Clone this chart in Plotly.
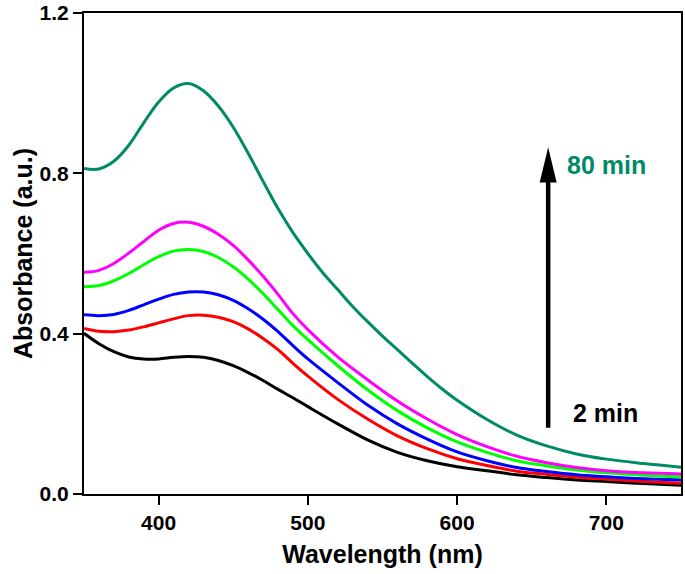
import plotly.graph_objects as go

# ---------------- data ----------------
wl_2min = [350, 360, 370, 380, 390, 400, 410, 420, 430, 440, 450, 460, 470, 480, 490, 500,
           520, 540, 560, 580, 600, 620, 640, 660, 680, 700, 725, 750]
abs_2min = [0.401, 0.375, 0.355, 0.342, 0.337, 0.337, 0.341, 0.343, 0.341, 0.333, 0.320, 0.303,
            0.283, 0.261, 0.240, 0.218, 0.175, 0.135, 0.104, 0.083, 0.068, 0.058, 0.048, 0.041,
            0.035, 0.031, 0.026, 0.022]

wl_std = [350, 360, 370, 380, 390, 400, 410, 420, 430, 440, 450, 460, 470, 480, 490, 500,
          520, 540, 560, 580, 600, 620, 640, 660, 680, 700, 725, 750]
abs_red = [0.413, 0.406, 0.405, 0.409, 0.417, 0.427, 0.437, 0.445, 0.446, 0.441, 0.430, 0.412,
           0.388, 0.360, 0.326, 0.294, 0.236, 0.187, 0.145, 0.113, 0.088, 0.071, 0.057, 0.049,
           0.042, 0.037, 0.031, 0.027]
abs_blue = [0.447, 0.445, 0.448, 0.458, 0.472, 0.486, 0.498, 0.504, 0.504, 0.497, 0.483, 0.462,
            0.436, 0.405, 0.370, 0.337, 0.278, 0.222, 0.175, 0.137, 0.105, 0.083, 0.066, 0.056,
            0.048, 0.043, 0.038, 0.035]
abs_green = [0.517, 0.520, 0.532, 0.550, 0.572, 0.592, 0.606, 0.610, 0.605, 0.590, 0.567, 0.536,
             0.500, 0.460, 0.420, 0.385, 0.320, 0.260, 0.208, 0.165, 0.130, 0.104, 0.083, 0.070,
             0.060, 0.053, 0.047, 0.043]
abs_magenta = [0.553, 0.558, 0.575, 0.601, 0.630, 0.658, 0.675, 0.678, 0.668, 0.648, 0.620, 0.584,
               0.543, 0.498, 0.450, 0.410, 0.342, 0.285, 0.232, 0.187, 0.148, 0.118, 0.094, 0.078,
               0.066, 0.058, 0.053, 0.050]

wl_80min = [350, 360, 370, 380, 390, 400, 410, 420, 430, 440, 450, 460, 470, 480, 490, 500,
            510, 520, 530, 540, 550, 560, 570, 580, 590, 600, 620, 640, 660, 680, 700, 725, 750]
abs_80min = [0.812, 0.811, 0.830, 0.870, 0.926, 0.978, 1.013, 1.024, 1.006, 0.968, 0.915, 0.850,
             0.780, 0.712, 0.652, 0.600, 0.552, 0.510, 0.468, 0.430, 0.394, 0.360, 0.326, 0.293,
             0.262, 0.234, 0.186, 0.147, 0.120, 0.100, 0.087, 0.076, 0.067]

TEAL = "#008A66"
series = [
    ("2 min", wl_2min, abs_2min, "#000000"),
    ("red", wl_std, abs_red, "#FF0000"),
    ("blue", wl_std, abs_blue, "#0000FF"),
    ("green", wl_std, abs_green, "#00FF00"),
    ("magenta", wl_std, abs_magenta, "#FF00FF"),
    ("80 min", wl_80min, abs_80min, TEAL),
]

x_ticks = [400, 500, 600, 700]
y_ticks = [0.0, 0.4, 0.8, 1.2]
y_ticklabels = ["0.0", "0.4", "0.8", "1.2"]

# arrow annotation (data coords)
arrow_x = 661
arrow_y0 = 0.165
arrow_y1 = 0.865
head_halfw = 5.7
head_len = 0.088

FONT = "Liberation Sans, Arial, sans-serif"

fig = go.Figure()
for name, xs, ys, col in series:
    fig.add_trace(go.Scatter(x=xs, y=ys, mode="lines", name=name,
                             line=dict(color=col, width=3, shape="spline", smoothing=1.0),
                             showlegend=False, hoverinfo="skip"))

# arrow shaft and head
fig.add_shape(type="line", xref="x", yref="y", x0=arrow_x, x1=arrow_x,
              y0=arrow_y0, y1=arrow_y1 - head_len + 0.005,
              line=dict(color="black", width=4.5))
fig.add_shape(type="path", xref="x", yref="y",
              path=f"M {arrow_x - head_halfw},{arrow_y1 - head_len} L {arrow_x + head_halfw},{arrow_y1 - head_len} L {arrow_x},{arrow_y1} Z",
              fillcolor="black", line=dict(color="black", width=0))

fig.add_annotation(x=700.4, y=0.821, xref="x", yref="y", text="<b>80 min</b>",
                   showarrow=False, xanchor="center", yanchor="middle",
                   font=dict(family=FONT, size=25, color=TEAL))
fig.add_annotation(x=699.7, y=0.202, xref="x", yref="y", text="<b>2 min</b>",
                   showarrow=False, xanchor="center", yanchor="middle",
                   font=dict(family=FONT, size=25, color="black"))

fig.update_layout(
    width=685, height=574,
    margin=dict(l=84, r=4, t=13, b=80),
    paper_bgcolor="white", plot_bgcolor="white",
    font=dict(family=FONT, color="black"),
    xaxis=dict(range=[350, 750], tickvals=x_ticks, ticks="outside", ticklen=9, tickwidth=2,
               tickcolor="black", showline=True, linewidth=2, linecolor="black", mirror=True,
               showgrid=False, zeroline=False, automargin=False,
               tickfont=dict(family=FONT, size=21, color="black", weight="bold"),
               title=dict(text="<b>Wavelength (nm)</b>", font=dict(family=FONT, size=25),
                          standoff=12)),
    yaxis=dict(range=[0, 1.2], tickvals=y_ticks, ticktext=y_ticklabels, ticks="outside",
               ticklen=9, tickwidth=2, tickcolor="black", showline=True, linewidth=2,
               linecolor="black", mirror=True, showgrid=False, zeroline=False, automargin=False,
               tickfont=dict(family=FONT, size=21, color="black", weight="bold"),
               title=dict(text="<b>Absorbance (a.u.)</b>", font=dict(family=FONT, size=25),
                          standoff=0)),
)

# remove the default page margin so the figure sits at the window's top-left corner
post = "document.body.style.margin='0';document.body.style.overflow='hidden';"
fig.write_html("out.html", post_script=post, config={"displayModeBar": False})
